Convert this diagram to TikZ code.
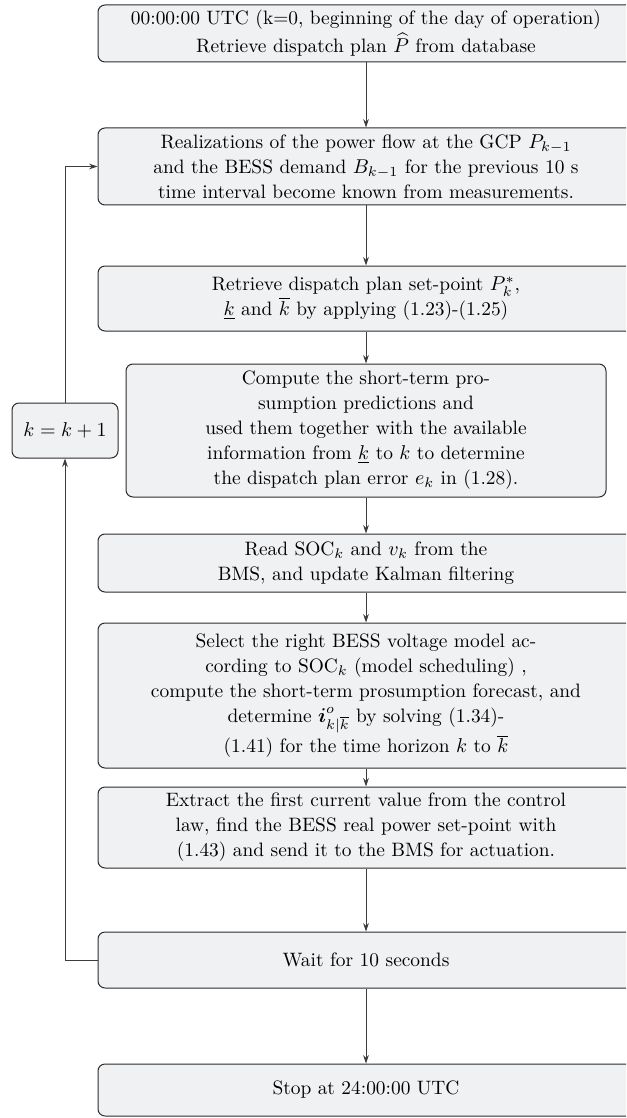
\documentclass[tikz,border=0pt]{standalone}
\usepackage{amsmath}
\usepackage{fontspec}
\usetikzlibrary{arrows.meta}
\definecolor{boxfill}{RGB}{240,241,243}
\definecolor{boxline}{RGB}{45,45,45}
\definecolor{arrline}{RGB}{60,60,60}
\tikzset{
  stepbox/.style={draw=boxline, fill=boxfill, line width=0.5pt, rounded corners=3.5pt,
    align=center, inner sep=0pt, font=\fontsize{9.7}{12.5}\selectfont},
  mainbox/.style={stepbox, minimum width=268pt},
  arr/.style={draw=arrline, line width=0.45pt, -{Stealth[length=4.2pt,width=2.8pt]}}
}
\begin{document}
\begin{tikzpicture}[x=0.5pt, y=-0.5pt]
\useasboundingbox (0,0) rectangle (626,1118);
\clip (0,0) rectangle (626,1118);
\node[mainbox, minimum height=28.5pt] (b1) at (366,33.5)
  {00:00:00 UTC (k=0, beginning of the day of operation)\\[1.5pt] Retrieve dispatch plan $\widehat{P}$ from database};
\node[mainbox, minimum height=38.5pt] (b2) at (366,166.5)
  {Realizations of the power flow at the GCP $P_{k-1}$\\ and the BESS demand $B_{k-1}$ for the previous 10 s\\ time interval become known from measurements.};
\node[mainbox, minimum height=32.5pt] (b3) at (366,298.5)
  {Retrieve dispatch plan set-point $P^*_k$,\\ $\underline{k}$ and $\overline{k}$ by applying (1.23)-(1.25)};
\node[stepbox, minimum width=240pt, minimum height=66.5pt] (b4) at (366,430.5)
  {Compute the short-term pro-\\ sumption predictions and\\ used them together with the available\\ information from $\underline{k}$ to $k$ to determine\\ the dispatch plan error $e_k$ in (1.28).};
\node[stepbox, minimum width=53pt, minimum height=27.5pt] (kk) at (65,430.5) {$k=k+1$};
\node[mainbox, minimum height=29pt] (b5) at (366,563)
  {Read SOC$_k$ and $v_k$ from the\\ BMS, and update Kalman filtering};
\node[mainbox, minimum height=72.5pt] (b6) at (366,695.5)
  {Select the right BESS voltage model ac-\\ cording to SOC$_k$ (model scheduling) ,\\ compute the short-term prosumption forecast, and\\ determine $\boldsymbol{i}^{o}_{k|\overline{k}}$ by solving (1.34)-\\ (1.41) for the time horizon $k$ to $\overline{k}$};
\node[mainbox, minimum height=40.5pt] (b7) at (366,827.5)
  {Extract the first current value from the control\\ law, find the BESS real power set-point with\\ (1.43) and send it to the BMS for actuation.};
\node[mainbox, minimum height=28pt] (b8) at (366,960) {Wait for 10 seconds};
\node[mainbox, minimum height=26pt] (b9) at (366,1090) {Stop at 24:00:00 UTC};
\draw[arr] (b1) -- (b2);
\draw[arr] (b2) -- (b3);
\draw[arr] (b3) -- (b4);
\draw[arr] (b4) -- (b5);
\draw[arr] (b5) -- (b6);
\draw[arr] (b6) -- (b7);
\draw[arr] (b7) -- (b8);
\draw[arr] (b8) -- (b9);
\draw[arr] (b8.west) -| (kk.south);
\draw[arr] (kk.north) |- (b2.west);
\end{tikzpicture}
\end{document}
